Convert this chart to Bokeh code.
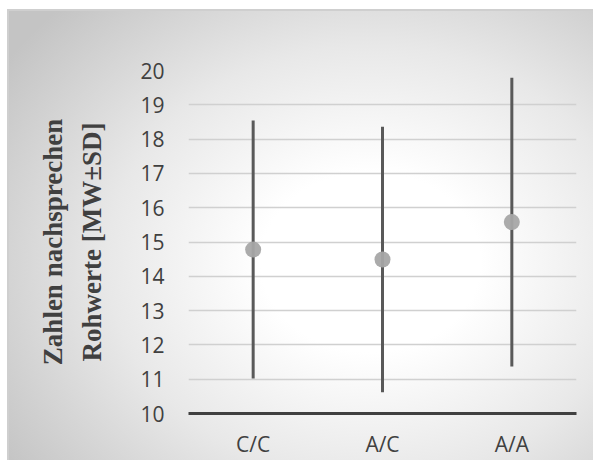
from bokeh.plotting import figure
from bokeh.models import ColumnDataSource, FixedTicker, Range1d
from bokeh.embed import file_html
from bokeh.resources import INLINE

categories = ["C/C", "A/C", "A/A"]
means = [14.78, 14.49, 15.58]
sds = [3.76, 3.87, 4.21]
y_ticks = [10, 11, 12, 13, 14, 15, 16, 17, 18, 19, 20]

lower = [m - s for m, s in zip(means, sds)]
upper = [m + s for m, s in zip(means, sds)]
src = ColumnDataSource(dict(cat=categories, mean=means, lo=lower, hi=upper))

p = figure(x_range=categories, y_range=Range1d(10, 20),
           width=593, height=460, output_backend="svg", toolbar_location=None,
           min_border_left=188, min_border_right=17, min_border_top=70, min_border_bottom=47)

p.background_fill_color = None
p.border_fill_color = None
p.outline_line_color = None
p.styles = {
    "background": (
        "linear-gradient(#cfcfcf,#cfcfcf) 8px 9px / 585px 2px no-repeat, "
        "linear-gradient(#cfcfcf,#cfcfcf) 7px 9px / 2px 451px no-repeat, "
        "radial-gradient(ellipse 75% 80% at 62% 56%, #ffffff 25%, #e8e8e8 60%, #c4c4c4 100%) 8px 10px / 585px 450px no-repeat, "
        "#ffffff"
    ),
}

p.segment(x0="cat", y0="lo", x1="cat", y1="hi", source=src, line_color="#595959", line_width=3)
p.scatter(x="cat", y="mean", source=src, size=16, fill_color="#a6a6a6", line_color=None, fill_alpha=0.95)

p.yaxis.ticker = FixedTicker(ticks=y_ticks)
p.ygrid.grid_line_color = "#d0d0d0"
p.ygrid.grid_line_width = 1.5
p.xgrid.grid_line_color = None

p.yaxis.axis_line_color = None
p.yaxis.major_tick_line_color = None
p.yaxis.minor_tick_line_color = None
p.yaxis.major_label_text_font = "Open Sans"
p.yaxis.major_label_text_font_size = "21px"
p.yaxis.major_label_text_color = "#404040"
p.yaxis.major_label_standoff = 18
p.yaxis.axis_label = "Zahlen nachsprechen\nRohwerte [MW±SD]"
p.yaxis.axis_label_text_font = "Liberation Serif"
p.yaxis.axis_label_text_font_style = "bold"
p.yaxis.axis_label_text_font_size = "27px"
p.yaxis.axis_label_text_color = "#404040"
p.yaxis.axis_label_text_line_height = 1.3
p.yaxis.axis_label_standoff = 30

p.xaxis.axis_line_color = "#404040"
p.xaxis.axis_line_width = 3
p.xaxis.major_tick_line_color = None
p.xaxis.minor_tick_line_color = None
p.xaxis.major_label_text_font = "Open Sans"
p.xaxis.major_label_text_font_size = "21px"
p.xaxis.major_label_text_color = "#404040"
p.xaxis.major_label_standoff = 10

open("out.html", "w").write(file_html(p, INLINE))
